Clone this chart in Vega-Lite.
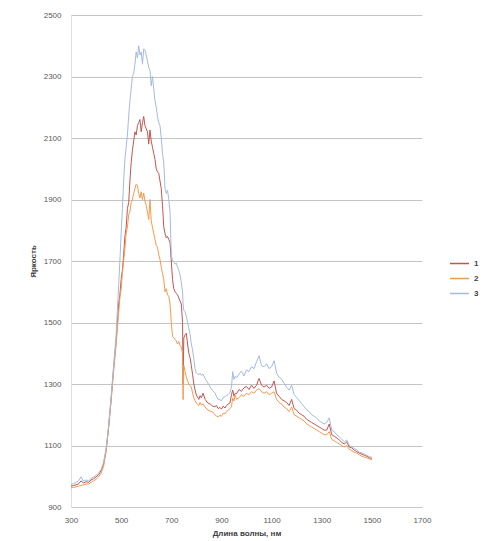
{
  "$schema": "https://vega.github.io/schema/vega-lite/v6.json",
  "width": 351,
  "height": 492,
  "autosize": "none",
  "padding": {"left": 71, "top": 15, "right": 61, "bottom": 34},
  "background": "white",
  "datasets": {
    "wide": [
      {"nm":300,"a":968,"b":962,"c":974},
      {"nm":310,"a":970,"b":964,"c":976},
      {"nm":320,"a":972,"b":965,"c":980},
      {"nm":330,"a":975,"b":968,"c":985},
      {"nm":340,"a":985,"b":970,"c":998},
      {"nm":350,"a":978,"b":972,"c":984},
      {"nm":360,"a":982,"b":975,"c":988},
      {"nm":370,"a":980,"b":974,"c":985},
      {"nm":380,"a":988,"b":980,"c":993},
      {"nm":390,"a":992,"b":985,"c":997},
      {"nm":400,"a":998,"b":990,"c":1003},
      {"nm":410,"a":1005,"b":998,"c":1010},
      {"nm":420,"a":1018,"b":1010,"c":1022},
      {"nm":430,"a":1040,"b":1032,"c":1045},
      {"nm":440,"a":1085,"b":1080,"c":1090},
      {"nm":450,"a":1160,"b":1155,"c":1165},
      {"nm":460,"a":1250,"b":1245,"c":1258},
      {"nm":470,"a":1350,"b":1340,"c":1360},
      {"nm":480,"a":1440,"b":1430,"c":1460},
      {"nm":485,"a":1500,"b":1480,"c":1540},
      {"nm":490,"a":1560,"b":1530,"c":1620},
      {"nm":495,"a":1590,"b":1580,"c":1700},
      {"nm":500,"a":1640,"b":1610,"c":1790},
      {"nm":505,"a":1670,"b":1660,"c":1870},
      {"nm":510,"a":1720,"b":1700,"c":1960},
      {"nm":515,"a":1780,"b":1740,"c":2030},
      {"nm":520,"a":1810,"b":1790,"c":2070},
      {"nm":525,"a":1870,"b":1810,"c":2110},
      {"nm":530,"a":1890,"b":1850,"c":2170},
      {"nm":535,"a":1960,"b":1860,"c":2220},
      {"nm":540,"a":2020,"b":1890,"c":2260},
      {"nm":545,"a":2060,"b":1900,"c":2300},
      {"nm":550,"a":2090,"b":1920,"c":2310},
      {"nm":555,"a":2120,"b":1935,"c":2340},
      {"nm":560,"a":2110,"b":1950,"c":2380},
      {"nm":565,"a":2140,"b":1945,"c":2360},
      {"nm":570,"a":2150,"b":1920,"c":2400},
      {"nm":575,"a":2160,"b":1905,"c":2370},
      {"nm":580,"a":2120,"b":1925,"c":2380},
      {"nm":585,"a":2150,"b":1900,"c":2340},
      {"nm":590,"a":2170,"b":1921,"c":2390},
      {"nm":595,"a":2140,"b":1895,"c":2385},
      {"nm":600,"a":2130,"b":1880,"c":2370},
      {"nm":605,"a":2120,"b":1860,"c":2350},
      {"nm":610,"a":2080,"b":1835,"c":2330},
      {"nm":615,"a":2126,"b":1900,"c":2320},
      {"nm":620,"a":2090,"b":1830,"c":2270},
      {"nm":625,"a":2070,"b":1810,"c":2300},
      {"nm":630,"a":2050,"b":1790,"c":2260},
      {"nm":635,"a":2030,"b":1770,"c":2220},
      {"nm":640,"a":2000,"b":1750,"c":2200},
      {"nm":645,"a":1990,"b":1745,"c":2170},
      {"nm":650,"a":1985,"b":1720,"c":2150},
      {"nm":655,"a":1960,"b":1705,"c":2140},
      {"nm":660,"a":1935,"b":1680,"c":2100},
      {"nm":665,"a":1880,"b":1660,"c":2050},
      {"nm":670,"a":1811,"b":1640,"c":2020},
      {"nm":675,"a":1790,"b":1600,"c":1935},
      {"nm":680,"a":1775,"b":1610,"c":1920},
      {"nm":685,"a":1780,"b":1590,"c":1930},
      {"nm":690,"a":1770,"b":1585,"c":1900},
      {"nm":695,"a":1760,"b":1560,"c":1860},
      {"nm":700,"a":1700,"b":1500,"c":1720},
      {"nm":705,"a":1640,"b":1455,"c":1700},
      {"nm":710,"a":1610,"b":1450,"c":1695},
      {"nm":715,"a":1600,"b":1445,"c":1690},
      {"nm":720,"a":1595,"b":1440,"c":1693},
      {"nm":725,"a":1590,"b":1430,"c":1680},
      {"nm":730,"a":1580,"b":1438,"c":1670},
      {"nm":735,"a":1570,"b":1425,"c":1655},
      {"nm":740,"a":1560,"b":1420,"c":1630},
      {"nm":745,"a":1500,"b":1400,"c":1600},
      {"nm":747,"a":1300,"b":1249,"c":1560},
      {"nm":750,"a":1450,"b":1360,"c":1540},
      {"nm":755,"a":1460,"b":1340,"c":1535},
      {"nm":760,"a":1465,"b":1323,"c":1520},
      {"nm":765,"a":1430,"b":1310,"c":1500},
      {"nm":770,"a":1400,"b":1300,"c":1480},
      {"nm":775,"a":1385,"b":1295,"c":1460},
      {"nm":780,"a":1360,"b":1290,"c":1430},
      {"nm":785,"a":1330,"b":1270,"c":1410},
      {"nm":790,"a":1300,"b":1255,"c":1380},
      {"nm":795,"a":1280,"b":1245,"c":1350},
      {"nm":800,"a":1264,"b":1238,"c":1336},
      {"nm":810,"a":1250,"b":1230,"c":1330},
      {"nm":815,"a":1262,"b":1240,"c":1335},
      {"nm":820,"a":1255,"b":1232,"c":1328},
      {"nm":827,"a":1270,"b":1235,"c":1332},
      {"nm":835,"a":1250,"b":1225,"c":1318},
      {"nm":846,"a":1238,"b":1215,"c":1303},
      {"nm":855,"a":1235,"b":1212,"c":1290},
      {"nm":865,"a":1228,"b":1209,"c":1278},
      {"nm":874,"a":1226,"b":1200,"c":1271},
      {"nm":880,"a":1230,"b":1196,"c":1260},
      {"nm":887,"a":1220,"b":1193,"c":1250},
      {"nm":894,"a":1224,"b":1198,"c":1249},
      {"nm":900,"a":1218,"b":1195,"c":1245},
      {"nm":907,"a":1228,"b":1205,"c":1256},
      {"nm":914,"a":1222,"b":1203,"c":1259},
      {"nm":920,"a":1230,"b":1210,"c":1262},
      {"nm":927,"a":1235,"b":1215,"c":1266},
      {"nm":934,"a":1238,"b":1220,"c":1271},
      {"nm":940,"a":1265,"b":1226,"c":1290},
      {"nm":945,"a":1280,"b":1255,"c":1340},
      {"nm":950,"a":1260,"b":1245,"c":1315},
      {"nm":955,"a":1270,"b":1264,"c":1325},
      {"nm":960,"a":1268,"b":1250,"c":1320},
      {"nm":970,"a":1282,"b":1255,"c":1332},
      {"nm":980,"a":1276,"b":1265,"c":1342},
      {"nm":990,"a":1288,"b":1260,"c":1326},
      {"nm":1000,"a":1292,"b":1270,"c":1346},
      {"nm":1010,"a":1282,"b":1265,"c":1340},
      {"nm":1020,"a":1296,"b":1275,"c":1356},
      {"nm":1030,"a":1286,"b":1270,"c":1350},
      {"nm":1040,"a":1296,"b":1280,"c":1372},
      {"nm":1050,"a":1318,"b":1285,"c":1392},
      {"nm":1060,"a":1296,"b":1275,"c":1360},
      {"nm":1070,"a":1290,"b":1270,"c":1356},
      {"nm":1080,"a":1296,"b":1275,"c":1366},
      {"nm":1090,"a":1286,"b":1265,"c":1350},
      {"nm":1100,"a":1290,"b":1270,"c":1356},
      {"nm":1110,"a":1310,"b":1275,"c":1376},
      {"nm":1120,"a":1270,"b":1250,"c":1336},
      {"nm":1130,"a":1260,"b":1240,"c":1322},
      {"nm":1140,"a":1250,"b":1235,"c":1316},
      {"nm":1150,"a":1245,"b":1225,"c":1302},
      {"nm":1160,"a":1240,"b":1220,"c":1290},
      {"nm":1170,"a":1230,"b":1210,"c":1280},
      {"nm":1180,"a":1250,"b":1225,"c":1296},
      {"nm":1190,"a":1220,"b":1200,"c":1266},
      {"nm":1200,"a":1215,"b":1195,"c":1256},
      {"nm":1210,"a":1205,"b":1190,"c":1246},
      {"nm":1220,"a":1200,"b":1185,"c":1236},
      {"nm":1230,"a":1195,"b":1180,"c":1226},
      {"nm":1240,"a":1185,"b":1170,"c":1216},
      {"nm":1250,"a":1180,"b":1165,"c":1210},
      {"nm":1260,"a":1175,"b":1160,"c":1200},
      {"nm":1270,"a":1170,"b":1155,"c":1195},
      {"nm":1280,"a":1165,"b":1150,"c":1190},
      {"nm":1290,"a":1160,"b":1145,"c":1180},
      {"nm":1300,"a":1155,"b":1140,"c":1175},
      {"nm":1310,"a":1150,"b":1135,"c":1170},
      {"nm":1320,"a":1150,"b":1135,"c":1175},
      {"nm":1330,"a":1170,"b":1145,"c":1190},
      {"nm":1340,"a":1135,"b":1120,"c":1150},
      {"nm":1350,"a":1130,"b":1115,"c":1145},
      {"nm":1360,"a":1125,"b":1110,"c":1135},
      {"nm":1370,"a":1118,"b":1105,"c":1128},
      {"nm":1380,"a":1110,"b":1100,"c":1120},
      {"nm":1390,"a":1105,"b":1095,"c":1112},
      {"nm":1400,"a":1112,"b":1100,"c":1118},
      {"nm":1410,"a":1095,"b":1088,"c":1100},
      {"nm":1420,"a":1092,"b":1083,"c":1096},
      {"nm":1430,"a":1085,"b":1078,"c":1090},
      {"nm":1440,"a":1080,"b":1075,"c":1086},
      {"nm":1450,"a":1075,"b":1070,"c":1078},
      {"nm":1460,"a":1072,"b":1065,"c":1076},
      {"nm":1470,"a":1068,"b":1062,"c":1072},
      {"nm":1480,"a":1065,"b":1060,"c":1068},
      {"nm":1490,"a":1060,"b":1056,"c":1064},
      {"nm":1500,"a":1058,"b":1054,"c":1062}
    ]
  },
  "data": {"name": "wide"},
  "transform": [
    {"fold": ["a", "b", "c"], "as": ["key", "val"]},
    {"lookup": "key", "from": {"data": {"values": [{"key": "a", "series": "1"}, {"key": "b", "series": "2"}, {"key": "c", "series": "3"}]}, "key": "key", "fields": ["series"]}}
  ],
  "mark": {"type": "line", "strokeWidth": 1, "interpolate": "linear"},
  "encoding": {
    "x": {
      "field": "nm", "type": "quantitative",
      "scale": {"domain": [300, 1700], "nice": false, "zero": false},
      "axis": {
        "values": [300, 500, 700, 900, 1100, 1300, 1500, 1700],
        "format": "d",
        "labelFlush": false,
        "title": "Длина волны, нм",
        "grid": false, "ticks": false,
        "domainColor": "#c8c8c8",
        "labelPadding": 9, "titlePadding": 5
      }
    },
    "y": {
      "field": "val", "type": "quantitative",
      "scale": {"domain": [900, 2500], "nice": false, "zero": false},
      "axis": {
        "values": [900, 1100, 1300, 1500, 1700, 1900, 2100, 2300, 2500],
        "format": "d",
        "labelFlush": false,
        "title": "Яркость",
        "grid": true, "gridColor": "#c4c4c4", "gridWidth": 1,
        "ticks": false,
        "domainColor": "#dedede",
        "labelPadding": 10, "titlePadding": 6
      }
    },
    "color": {
      "field": "series", "type": "nominal",
      "scale": {"domain": ["1", "2", "3"], "range": ["#c4554f", "#f59a4c", "#a3bbe0"]},
      "legend": {
        "title": null,
        "orient": "none",
        "legendX": 378,
        "legendY": 238,
        "symbolType": "stroke",
        "symbolSize": 361,
        "symbolStrokeWidth": 1.5,
        "rowPadding": -5,
        "labelOffset": 4,
        "labelFontSize": 8,
        "labelFontWeight": "bold",
        "labelColor": "#404040"
      }
    }
  },
  "config": {
    "view": {"stroke": null},
    "font": "Liberation Sans",
    "axis": {
      "labelFontSize": 8,
      "labelColor": "#595959",
      "titleFontSize": 8,
      "titleFontWeight": "bold",
      "titleColor": "#404040"
    }
  }
}
